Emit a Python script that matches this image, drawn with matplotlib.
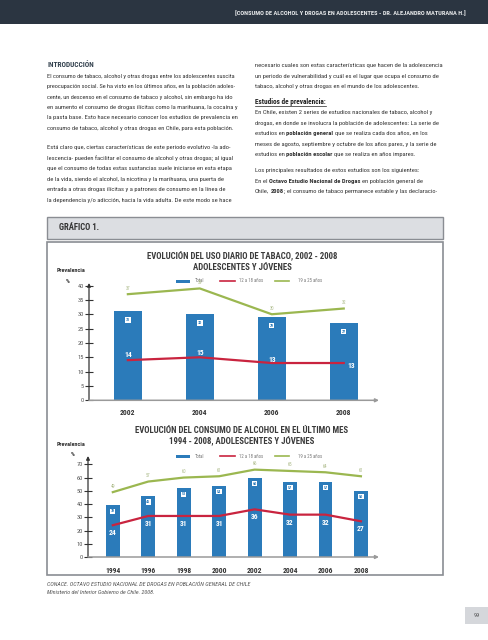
import matplotlib
matplotlib.use("Agg")
import matplotlib.pyplot as plt
from matplotlib import font_manager as fm
from matplotlib.patches import Rectangle


def have_font(name):
    try:
        fm.findfont(fm.FontProperties(family=name), fallback_to_default=False)
        return True
    except ValueError:
        return False


# a condensed face suits the page best; fall back to a fairly narrow sans
NARROW = next((f for f in ["Liberation Sans Narrow", "Roboto Condensed", "Open Sans Condensed",
                           "Lato", "Roboto"] if have_font(f)), "DejaVu Sans")
plt.rcParams["font.family"] = NARROW

# ---- data -------------------------------------------------------------
tab_years = ["2002", "2004", "2006", "2008"]
tab_total = [31, 30, 29, 27]
tab_12_18 = [14, 15, 13, 13]
tab_19_25 = [37, 39, 30, 32]
tab_yticks = [0, 5, 10, 15, 20, 25, 30, 35, 40]

alc_years = ["1994", "1996", "1998", "2000", "2002", "2004", "2006", "2008"]
alc_total = [39, 46, 52, 54, 60, 57, 57, 50]
alc_12_18 = [24, 31, 31, 31, 36, 32, 32, 27]
alc_19_25 = [49, 57, 60, 61, 66, 65, 64, 61]
alc_yticks = [0, 10, 20, 30, 40, 50, 60, 70]

legend_labels = ["Total", "12 a 18 años", "19 a 25 años"]

BLUE = "#2b7bba"
RED = "#c9243f"
GREEN = "#9bb750"
TXT = "#333333"

left_col = [
    ("El consumo de tabaco, alcohol y otras drogas entre los adolescentes suscita", True),
    ("preocupación social. Se ha visto en los últimos años, en la población adoles-", True),
    ("cente, un descenso en el consumo de tabaco y alcohol, sin embargo ha ido", True),
    ("en aumento el consumo de drogas ilícitas como la marihuana, la cocaína y", True),
    ("la pasta base. Esto hace necesario conocer los estudios de prevalencia en", True),
    ("consumo de tabaco, alcohol y otras drogas en Chile, para esta población.", False),
    ("Está claro que, ciertas características de este periodo evolutivo -la ado-", True),
    ("lescencia- pueden facilitar el consumo de alcohol y otras drogas; al igual", True),
    ("que el consumo de todas estas sustancias suele iniciarse en esta etapa", True),
    ("de la vida, siendo el alcohol, la nicotina y la marihuana, una puerta de", True),
    ("entrada a otras drogas ilícitas y a patrones de consumo en la línea de", True),
    ("la dependencia y/o adicción, hacia la vida adulta. De este modo se hace", True),
]
left_y = [75.7, 86.2, 96.6, 107.0, 117.5, 128.0,
          147.3, 157.8, 168.3, 178.7, 189.2, 199.7]

right_col = [
    ("necesario cuales son estas características que hacen de la adolescencia", True),
    ("un periodo de vulnerabilidad y cuál es el lugar que ocupa el consumo de", True),
    ("tabaco, alcohol y otras drogas en el mundo de los adolescentes.", False),
    ("En Chile, existen 2 series de estudios nacionales de tabaco, alcohol y", True),
    ("drogas, en donde se involucra la población de adolescentes: La serie de", True),
    ("estudios en **población general** que se realiza cada dos años, en los", True),
    ("meses de agosto, septiembre y octubre de los años pares, y la serie de", True),
    ("estudios en **población escolar** que se realiza en años impares.", False),
    ("Los principales resultados de estos estudios son los siguientes:", False),
    ("En el **Octavo Estudio Nacional de Drogas** en población general de", True),
    ("Chile, **2008**; el consumo de tabaco permanece estable y las declaracio-", True),
]
right_y = [65.0, 75.7, 86.2, 112.3, 122.7, 133.1, 143.6, 154.0, 170.0, 180.7, 191.1]

# ---- page -------------------------------------------------------------
W, H = 489, 640
fig = plt.figure(figsize=(W / 100, H / 100), dpi=100)
page = fig.add_axes([0, 0, 1, 1])
page.set_xlim(0, W)
page.set_ylim(H, 0)
page.axis("off")
renderer = fig.canvas.get_renderer()


def width_of(t):
    return t.get_window_extent(renderer).width


def fit_text(x, y, s, target, size, **kw):
    # shrink a single text so that it spans about `target` pixels
    t = page.text(x, y, s, fontsize=size, **kw)
    w = width_of(t)
    if w > target:
        t.set_fontsize(size * target / w)
    return t


def segments_of(line):
    # runs of regular / bold words, with a flag for a space before the run
    parts = line.split("**")
    out = []
    for k, seg in enumerate(parts):
        if seg.strip():
            gap = k > 0 and (seg[:1].isspace() or parts[k - 1][-1:].isspace())
            out.append((seg.strip(), k % 2 == 1, gap))
    return out


def space_width(size):
    a = page.text(0, 0, "x x", fontsize=size)
    b = page.text(0, 0, "xx", fontsize=size)
    sp = width_of(a) - width_of(b)
    a.remove()
    b.remove()
    return sp


def natural_width(line, size):
    segs = segments_of(line)
    tot = 0
    for s, b, g in segs:
        t = page.text(0, 0, s, fontsize=size, fontweight="bold" if b else "normal")
        tot += width_of(t)
        t.remove()
    return tot + space_width(size) * sum(1 for s, b, g in segs if g)


COLW = 188
BASE = 4.9
all_lines = left_col + right_col
fits = {l: BASE * COLW / natural_width(l, BASE) for l, j in all_lines}
# one body size for both columns: a low quartile of what the full lines allow
just_fits = sorted(fits[l] for l, j in all_lines if j)
BODY = min(BASE, just_fits[len(just_fits) // 4])


def draw_line(x, y, line, color=TXT):
    size = min(BODY, fits[line])
    space = space_width(size)
    cx = x
    for s, b, g in segments_of(line):
        if g:
            cx += space
        t = page.text(cx, y, s, fontsize=size, color=color, va="baseline",
                      fontweight="bold" if b else "normal")
        cx += width_of(t)


# header bar
page.add_patch(Rectangle((0, 0), W, 24, fc="#2b3541", ec="none"))
fit_text(466, 13.3, "[CONSUMO DE ALCOHOL Y DROGAS EN ADOLESCENTES - DR. ALEJANDRO MATURANA H.]",
         229, 4.7, ha="right", va="center", fontweight="bold", color="#e6e8ea")

page.text(47, 65, "INTRODUCCIÓN", fontsize=BODY * 1.15, fontweight="bold", color="#34424f", va="center")
for (line, just), y in zip(left_col, left_y):
    draw_line(47, y + 2, line)

head = page.text(255, 102, "Estudios de prevalencia:", fontsize=BODY * 1.12, fontweight="bold",
                 color="#222222", va="center")
hw = width_of(head)
page.plot([255, 255 + hw], [105.8, 105.8], color="#222222", lw=0.5)
for (line, just), y in zip(right_col, right_y):
    draw_line(255, y + 2, line)

# grafico header + chart frame
page.add_patch(Rectangle((46.7, 217), 396, 22, fc="#dcdee2", ec="#8a8d93", lw=1.0))
fit_text(58.7, 228, "GRÁFICO 1.", 41, 6.2, fontweight="bold", color="#333333", va="center")
page.add_patch(Rectangle((46.7, 242), 396, 333, fc="white", ec="#8a8d93", lw=1.2))

# source + page number
src = fit_text(47, 585, "CONACE. OCTAVO ESTUDIO NACIONAL DE DROGAS EN POBLACIÓN GENERAL DE CHILE",
               215, 4.3, style="italic", color="#555555", va="center")
page.text(47, 592.7, "Ministerio del Interior Gobierno de Chile. 2008.",
          fontsize=src.get_fontsize(), style="italic", color="#555555", va="center")
page.add_patch(Rectangle((465, 607), 24, 17, fc="#d5d7db", ec="none"))
page.text(477, 615.5, "99", fontsize=4.5, color="#555555", ha="center", va="center")


def draw_legend(y):
    page.add_patch(Rectangle((176, y - 1.5), 14, 3, fc=BLUE, ec="none"))
    page.plot([220, 235], [y, y], color=RED, lw=1.2)
    page.plot([275, 289], [y, y], color=GREEN, lw=1.2)
    for xt, lab in zip([195, 239, 298], legend_labels):
        page.text(xt, y, lab, fontsize=3.4, color="#777777", va="center")


def draw_title(y, l1, l2, w1):
    t = fit_text(242, y, l1, w1, 6.6, fontweight="bold", color="#3b3b3b", ha="center", va="center")
    page.text(242, y + 10.5, l2, fontsize=t.get_fontsize(), fontweight="bold", color="#3b3b3b",
              ha="center", va="center")


def px_axes(x0, yt, x1, yb):
    ax = fig.add_axes([x0 / W, 1 - yb / H, (x1 - x0) / W, (yb - yt) / H])
    ax.patch.set_visible(False)
    for s in ax.spines.values():
        s.set_visible(False)
    ax.annotate("", xy=(0, 1), xytext=(0, 0), xycoords="axes fraction",
                arrowprops=dict(arrowstyle="-|>", color="#333333", lw=0.9,
                                mutation_scale=5, shrinkA=0, shrinkB=0))
    ax.annotate("", xy=(1, 0), xytext=(0, 0), xycoords="axes fraction",
                arrowprops=dict(arrowstyle="-|>", color="#9a9a9a", lw=1.1,
                                mutation_scale=5, shrinkA=0, shrinkB=0))
    ax.tick_params(axis="y", direction="inout", length=5.5, width=0.8, color="#333333",
                   labelsize=4.6, labelcolor="#555555", pad=1)
    ax.tick_params(axis="x", length=0, labelsize=5.4, labelcolor="#333333")
    return ax


def draw_chart(ax, years, total, young, older, yticks, xlim, ylim,
               box_off, red_offs, xpad):
    x = list(range(len(years)))
    ax.bar(x, total, width=0.39, color=BLUE, zorder=2)
    ax.plot(x, young, color=RED, lw=1.6, zorder=3)
    ax.plot(x, older, color=GREEN, lw=1.6, zorder=3)
    ax.set_xlim(*xlim)
    ax.set_ylim(*ylim)
    ax.set_yticks(yticks)
    ax.set_xticks(x)
    ax.set_xticklabels(years, fontweight="bold")
    ax.tick_params(axis="x", pad=xpad)
    for i in x:
        ax.annotate(str(total[i]), (i, total[i]), xytext=(0, box_off), textcoords="offset pixels",
                    ha="center", va="center", fontsize=3.0, fontweight="bold", color=BLUE,
                    bbox=dict(boxstyle="square,pad=0.15", fc="white", ec="none"), zorder=4)
        ax.annotate(str(older[i]), (i, older[i]), xytext=(0, 6), textcoords="offset pixels",
                    ha="center", va="center", fontsize=3.3, color="#aab987")
        dx, dy = red_offs[i]
        ax.annotate(str(young[i]), (i, young[i]), xytext=(dx, dy), textcoords="offset pixels",
                    ha="center", va="center", fontsize=5.4, fontweight="bold", color="white",
                    zorder=5)


# chart 1
draw_title(256.7, "EVOLUCIÓN DEL USO DIARIO DE TABACO, 2002 - 2008", "ADOLESCENTES Y JÓVENES", 190)
page.text(57, 270, "Prevalencia", fontsize=4.4, fontweight="bold", color="#333333", va="center")
page.text(68, 281.7, "%", fontsize=4.4, fontweight="bold", color="#333333", va="center", ha="center")
draw_legend(281)
ax1 = px_axes(89, 283, 379, 400.3)
draw_chart(ax1, tab_years, tab_total, tab_12_18, tab_19_25, tab_yticks,
           (-0.54, 3.49), (0, 40.9), -8.7, [(0, 5), (0, 4), (0, 3), (7, -3)], 6)

# chart 2
draw_title(430.7, "EVOLUCIÓN DEL CONSUMO DE ALCOHOL EN EL ÚLTIMO MES",
           "1994 - 2008, ADOLESCENTES Y JÓVENES", 213)
page.text(57, 444, "Prevalencia", fontsize=4.4, fontweight="bold", color="#333333", va="center")
page.text(73, 454.5, "%", fontsize=4.4, fontweight="bold", color="#333333", va="center", ha="center")
draw_legend(456)
ax2 = px_axes(88, 456, 379, 557)
draw_chart(ax2, alc_years, alc_total, alc_12_18, alc_19_25, alc_yticks,
           (-0.70, 7.51), (0, 76.3), -6, [(0, -8)] * 8, 7)

fig.savefig("out.png", dpi=100)
